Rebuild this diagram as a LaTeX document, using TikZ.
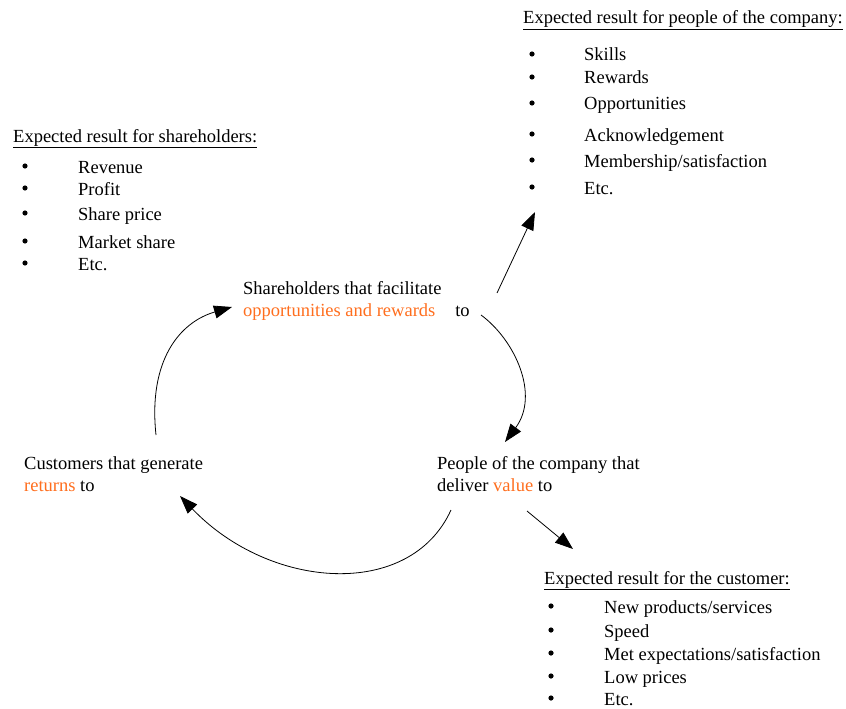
\documentclass[tikz,border=0pt]{standalone}
\usepackage{fontspec}
\setmainfont{Liberation Serif}
\usetikzlibrary{arrows.meta}
\definecolor{accent}{RGB}{255,110,30}
\begin{document}
\begin{tikzpicture}[x=1pt,y=-1pt,
  txt/.style={anchor=base west,inner sep=0pt,font=\fontsize{18.5}{22}\selectfont},
  bul/.style={circle,fill=black,inner sep=0pt,minimum size=5.2pt},
  link/.style={-{Triangle[length=18pt,width=13pt]},line width=0.8pt},
]
\useasboundingbox (0,0) rectangle (846,709);

% ---- expected results for shareholders
\node[txt] (shtitle) at (13,142) {\underline{Expected result for shareholders:}};
\foreach \y/\t [count=\i] in {173/{Revenue},195/{Profit},220/{Share price},248/{Market share},270/{Etc.}}{
  \node[bul] (shb\i) at (25,\y-7) {};
  \node[txt] (shi\i) at (78,\y) {\t};
}

% ---- expected results for people of the company
\node[txt] (pptitle) at (523,24) {\underline{Expected result for people of the company:}};
\foreach \y/\t [count=\i] in {61/{Skills},84/{Rewards},110/{Opportunities},141/{Acknowledgement},167/{Membership/satisfaction},194/{Etc.}}{
  \node[bul] (ppb\i) at (532,\y-7) {};
  \node[txt] (ppi\i) at (584,\y) {\t};
}

% ---- expected results for the customer
\node[txt] (cutitle) at (544,584) {\underline{Expected result for the customer:}};
\foreach \y/\t [count=\i] in {613/{New products/services},637/{Speed},660/{Met expectations/satisfaction},683/{Low prices},705/{Etc.}}{
  \node[bul] (cub\i) at (551,\y-7) {};
  \node[txt] (cui\i) at (604,\y) {\t};
}

% ---- cycle statements
\node[txt] (share1) at (243,294) {Shareholders that facilitate};
\node[txt] (share2) at (243,316) {\textcolor{accent}{opportunities and rewards}\hspace{20pt}to};
\node[txt] (cust1) at (24,469) {Customers that generate};
\node[txt] (cust2) at (24,491) {\textcolor{accent}{returns} to};
\node[txt] (peop1) at (437,469) {People of the company that};
\node[txt] (peop2) at (437,491) {deliver \textcolor{accent}{value} to};

% ---- connector ends
\coordinate (c2s) at (156,435);
\coordinate (s2in) at (232,307);
\coordinate (s2out) at (481,315);
\coordinate (p2in) at (505,442);
\coordinate (p2out) at (451,510);
\coordinate (c2in) at (180,496);
\coordinate (s2list) at (497,293);
\coordinate (pplist) at (535,212);
\coordinate (p2list) at (527,511);
\coordinate (culist) at (573,549);

% ---- cycle arrows
\draw[link] (c2s) .. controls (148,360) and (180,322) .. (s2in);
\draw[link] (s2out) .. controls (515,340) and (540,395) .. (p2in);
\draw[link] (p2out) .. controls (410,600) and (270,590) .. (c2in);

% ---- arrows to the expected results
\draw[link] (s2list) -- (pplist);
\draw[link] (p2list) -- (culist);
\end{tikzpicture}
\end{document}
